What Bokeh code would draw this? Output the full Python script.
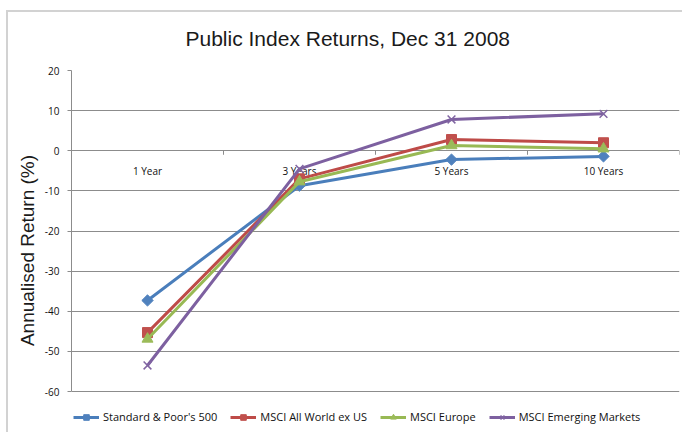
import math
from bokeh.plotting import figure
from bokeh.models import (Range1d, FactorRange, Legend, LegendItem, FixedTicker,
                          ColumnDataSource)
from bokeh.transform import dodge
from bokeh.core.properties import value
from bokeh.embed import file_html
from bokeh.resources import INLINE

categories = ["1 Year", "3 Years", "5 Years", "10 Years"]
sp500 = [-37.3, -8.7, -2.2, -1.4]
msci_aw = [-45.3, -7.0, 2.8, 2.0]
msci_eu = [-46.9, -7.7, 1.3, 0.5]
msci_em = [-53.5, -4.5, 7.8, 9.2]
series_names = ["Standard & Poor's 500", "MSCI All World ex US", "MSCI Europe", "MSCI Emerging Markets"]
y_ticks = [-60, -50, -40, -30, -20, -10, 0, 10, 20]

GRID = "#8c8c8c"

p = figure(width=682, height=432,
           x_range=FactorRange(*categories, range_padding=0),
           y_range=Range1d(-69.7, 20),
           output_backend="svg", toolbar_location=None,
           min_border_left=71, min_border_right=3,
           min_border_top=70, min_border_bottom=2)

# transparent canvas so a light chart-area border (top/left) can show behind it
p.border_fill_alpha = 0
p.background_fill_alpha = 0
p.styles = {
    "background-color": "#ffffff",
    "background-image": "linear-gradient(#d2d2d2, #d2d2d2), linear-gradient(#d2d2d2, #d2d2d2)",
    "background-size": "2px 100%, 100% 2px",
    "background-position": "6px 10px, 6px 10px",
    "background-repeat": "no-repeat",
}

p.title.text = "Public Index Returns, Dec 31 2008"
p.title.align = "left"
p.title.offset = 114
p.title.text_font = "Liberation Sans"
p.title.text_font_size = "21px"
p.title.text_font_style = "normal"
p.title.text_color = "#1a1a1a"
try:
    p.title.standoff = 41
except Exception:
    pass

p.outline_line_color = None
p.xaxis.visible = False
p.xgrid.visible = False
p.ygrid.grid_line_color = GRID
p.ygrid.grid_line_width = 1

p.yaxis.ticker = FixedTicker(ticks=y_ticks)
p.yaxis.major_label_overrides = {t: str(t) for t in y_ticks}
p.yaxis.bounds = (min(y_ticks), max(y_ticks))
p.yaxis.axis_line_color = GRID
p.yaxis.major_tick_line_color = GRID
p.yaxis.major_tick_out = 4
p.yaxis.major_tick_in = 0
p.yaxis.minor_tick_line_color = None
p.yaxis.major_label_text_font = "Open Sans"
p.yaxis.major_label_text_font_size = "10px"
p.yaxis.major_label_text_color = "#111111"
p.yaxis.major_label_standoff = 8
p.yaxis.axis_label = "Annualised Return (%)"
p.yaxis.axis_label_text_font = "Liberation Sans"
p.yaxis.axis_label_text_font_size = "19px"
p.yaxis.axis_label_text_font_style = "normal"
p.yaxis.axis_label_text_color = "#1a1a1a"
p.yaxis.axis_label_standoff = 4

cat_src = ColumnDataSource(data=dict(cat=categories, zero=[0] * len(categories),
                                     low=[-1] * len(categories)))
p.text(x="cat", y="zero", text="cat", y_offset=20, source=cat_src,
       text_align="center", text_baseline="middle",
       text_font=value("Open Sans"), text_font_size="10px", text_color="#111111")
p.segment(x0=dodge("cat", 0.5, range=p.x_range), y0="zero",
          x1=dodge("cat", 0.5, range=p.x_range), y1="low", source=cat_src,
          line_color=GRID, line_width=1)

specs = [
    (sp500, "#4a7ebb", "#4f81bd", "square", 8, math.pi / 4),
    (msci_aw, "#be4b48", "#c0504d", "square", 10, 0.0),
    (msci_eu, "#98b954", "#9bbb59", "triangle", 11, 0.0),
    (msci_em, "#7d60a0", "#8064a2", "x", 11, 0.0),
]
items = []
for (vals, lc, mc, mk, sz, ang), name in zip(specs, series_names):
    lr = p.line(x=categories, y=vals, line_color=lc, line_width=3)
    if mk == "x":
        sr = p.scatter(x=categories, y=vals, marker=mk, size=sz, line_color=mc, line_width=1.5)
    else:
        sr = p.scatter(x=categories, y=vals, marker=mk, size=sz, angle=ang,
                       fill_color=mc, line_color=mc)
    items.append(LegendItem(label=name, renderers=[lr, sr]))

legend = Legend(items=items, orientation="horizontal", location=(2, 6),
                label_text_font="Open Sans", label_text_font_size="11px",
                label_text_color="#111111", label_height=14,
                glyph_width=26, glyph_height=14, label_standoff=4, spacing=13,
                padding=0, margin=0, border_line_color=None,
                background_fill_alpha=0)
p.add_layout(legend)

open("out.html", "w").write(file_html(p, INLINE))
